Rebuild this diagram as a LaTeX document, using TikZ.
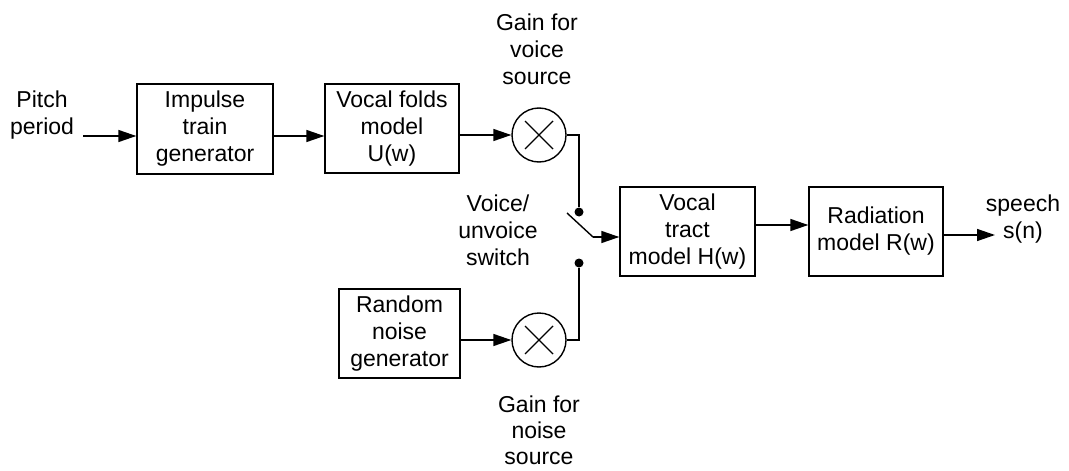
\documentclass[tikz,border=0pt]{standalone}
\usepackage{fontspec}
\setmainfont{Liberation Sans}
\usetikzlibrary{arrows.meta,calc}
\begin{document}
\begin{tikzpicture}[x=1pt,y=-1pt,
  font=\fontsize{23}{27}\selectfont,
  blk/.style={draw,line width=1.4pt,align=center,inner sep=0pt},
  lbl/.style={align=center,inner sep=0pt},
  mult/.style={draw,line width=1.4pt,circle,minimum size=54pt,inner sep=0pt},
  wire/.style={line width=1.4pt},
  arr/.style={line width=1.4pt,-{Triangle[length=18pt,width=12pt]}},
  dot/.style={circle,fill,inner sep=0pt,minimum size=9pt}]
\useasboundingbox (0,0) rectangle (1069,471);
\fill[white] (0,0) rectangle (1069,471);

\node[lbl] (pitch) at (42,115) {Pitch\\period};
\coordinate (pin) at (83,136);
\node[blk,minimum width=136pt,minimum height=90pt] (imp) at (205,129) {Impulse\\train\\generator};
\node[blk,minimum width=134pt,minimum height=89pt] (folds) at (392,128.5) {Vocal folds\\model\\U(w)};
\node[mult] (m1) at (539,135) {};
\draw[wire] ($(m1)+(-14,-14)$) -- ($(m1)+(14,14)$) ($(m1)+(-14,14)$) -- ($(m1)+(14,-14)$);
\node[lbl] (g1) at (537,49) {Gain for\\voice\\source};

\node[blk,minimum width=121pt,minimum height=89pt] (noise) at (399.5,333.5) {Random\\noise\\generator};
\node[mult] (m2) at (539,340) {};
\draw[wire] ($(m2)+(-14,-14)$) -- ($(m2)+(14,14)$) ($(m2)+(-14,14)$) -- ($(m2)+(14,-14)$);
\node[lbl,font=\fontsize{23}{26}\selectfont] (g2) at (539,430) {Gain for\\noise\\source};

\node[dot] (d1) at (579,212) {};
\node[dot] (d2) at (579,263) {};
\coordinate (sw0) at (567,213);
\coordinate (sw1) at (593,237);
\node[lbl] (swl) at (498,230) {Voice/\\unvoice\\switch};

\node[blk,minimum width=135pt,minimum height=89pt] (tract) at (687.5,231.5) {Vocal\\tract\\model H(w)};
\node[blk,minimum width=134pt,minimum height=89pt] (rad) at (876,231.5) {Radiation\\model R(w)};
\coordinate (out) at (995,235);
\node[lbl] (speech) at (1023,219) {speech\\s(n)};

\draw[arr] (pin) -- (pin -| imp.west);
\draw[arr] (imp.east |- 0,136) -- (folds.west |- 0,136);
\draw[arr] (folds.east |- m1) -- (m1.west);
\draw[wire] (m1.east) -| (d1);
\draw[arr] (noise.east |- m2) -- (m2.west);
\draw[wire] (m2.east) -| (d2);
\draw[wire] (sw0) -- (sw1);
\draw[arr] (sw1) -- (sw1 -| tract.west);
\draw[arr] (tract.east |- 0,225) -- (rad.west |- 0,225);
\draw[arr] (rad.east |- out) -- (out);
\end{tikzpicture}
\end{document}
